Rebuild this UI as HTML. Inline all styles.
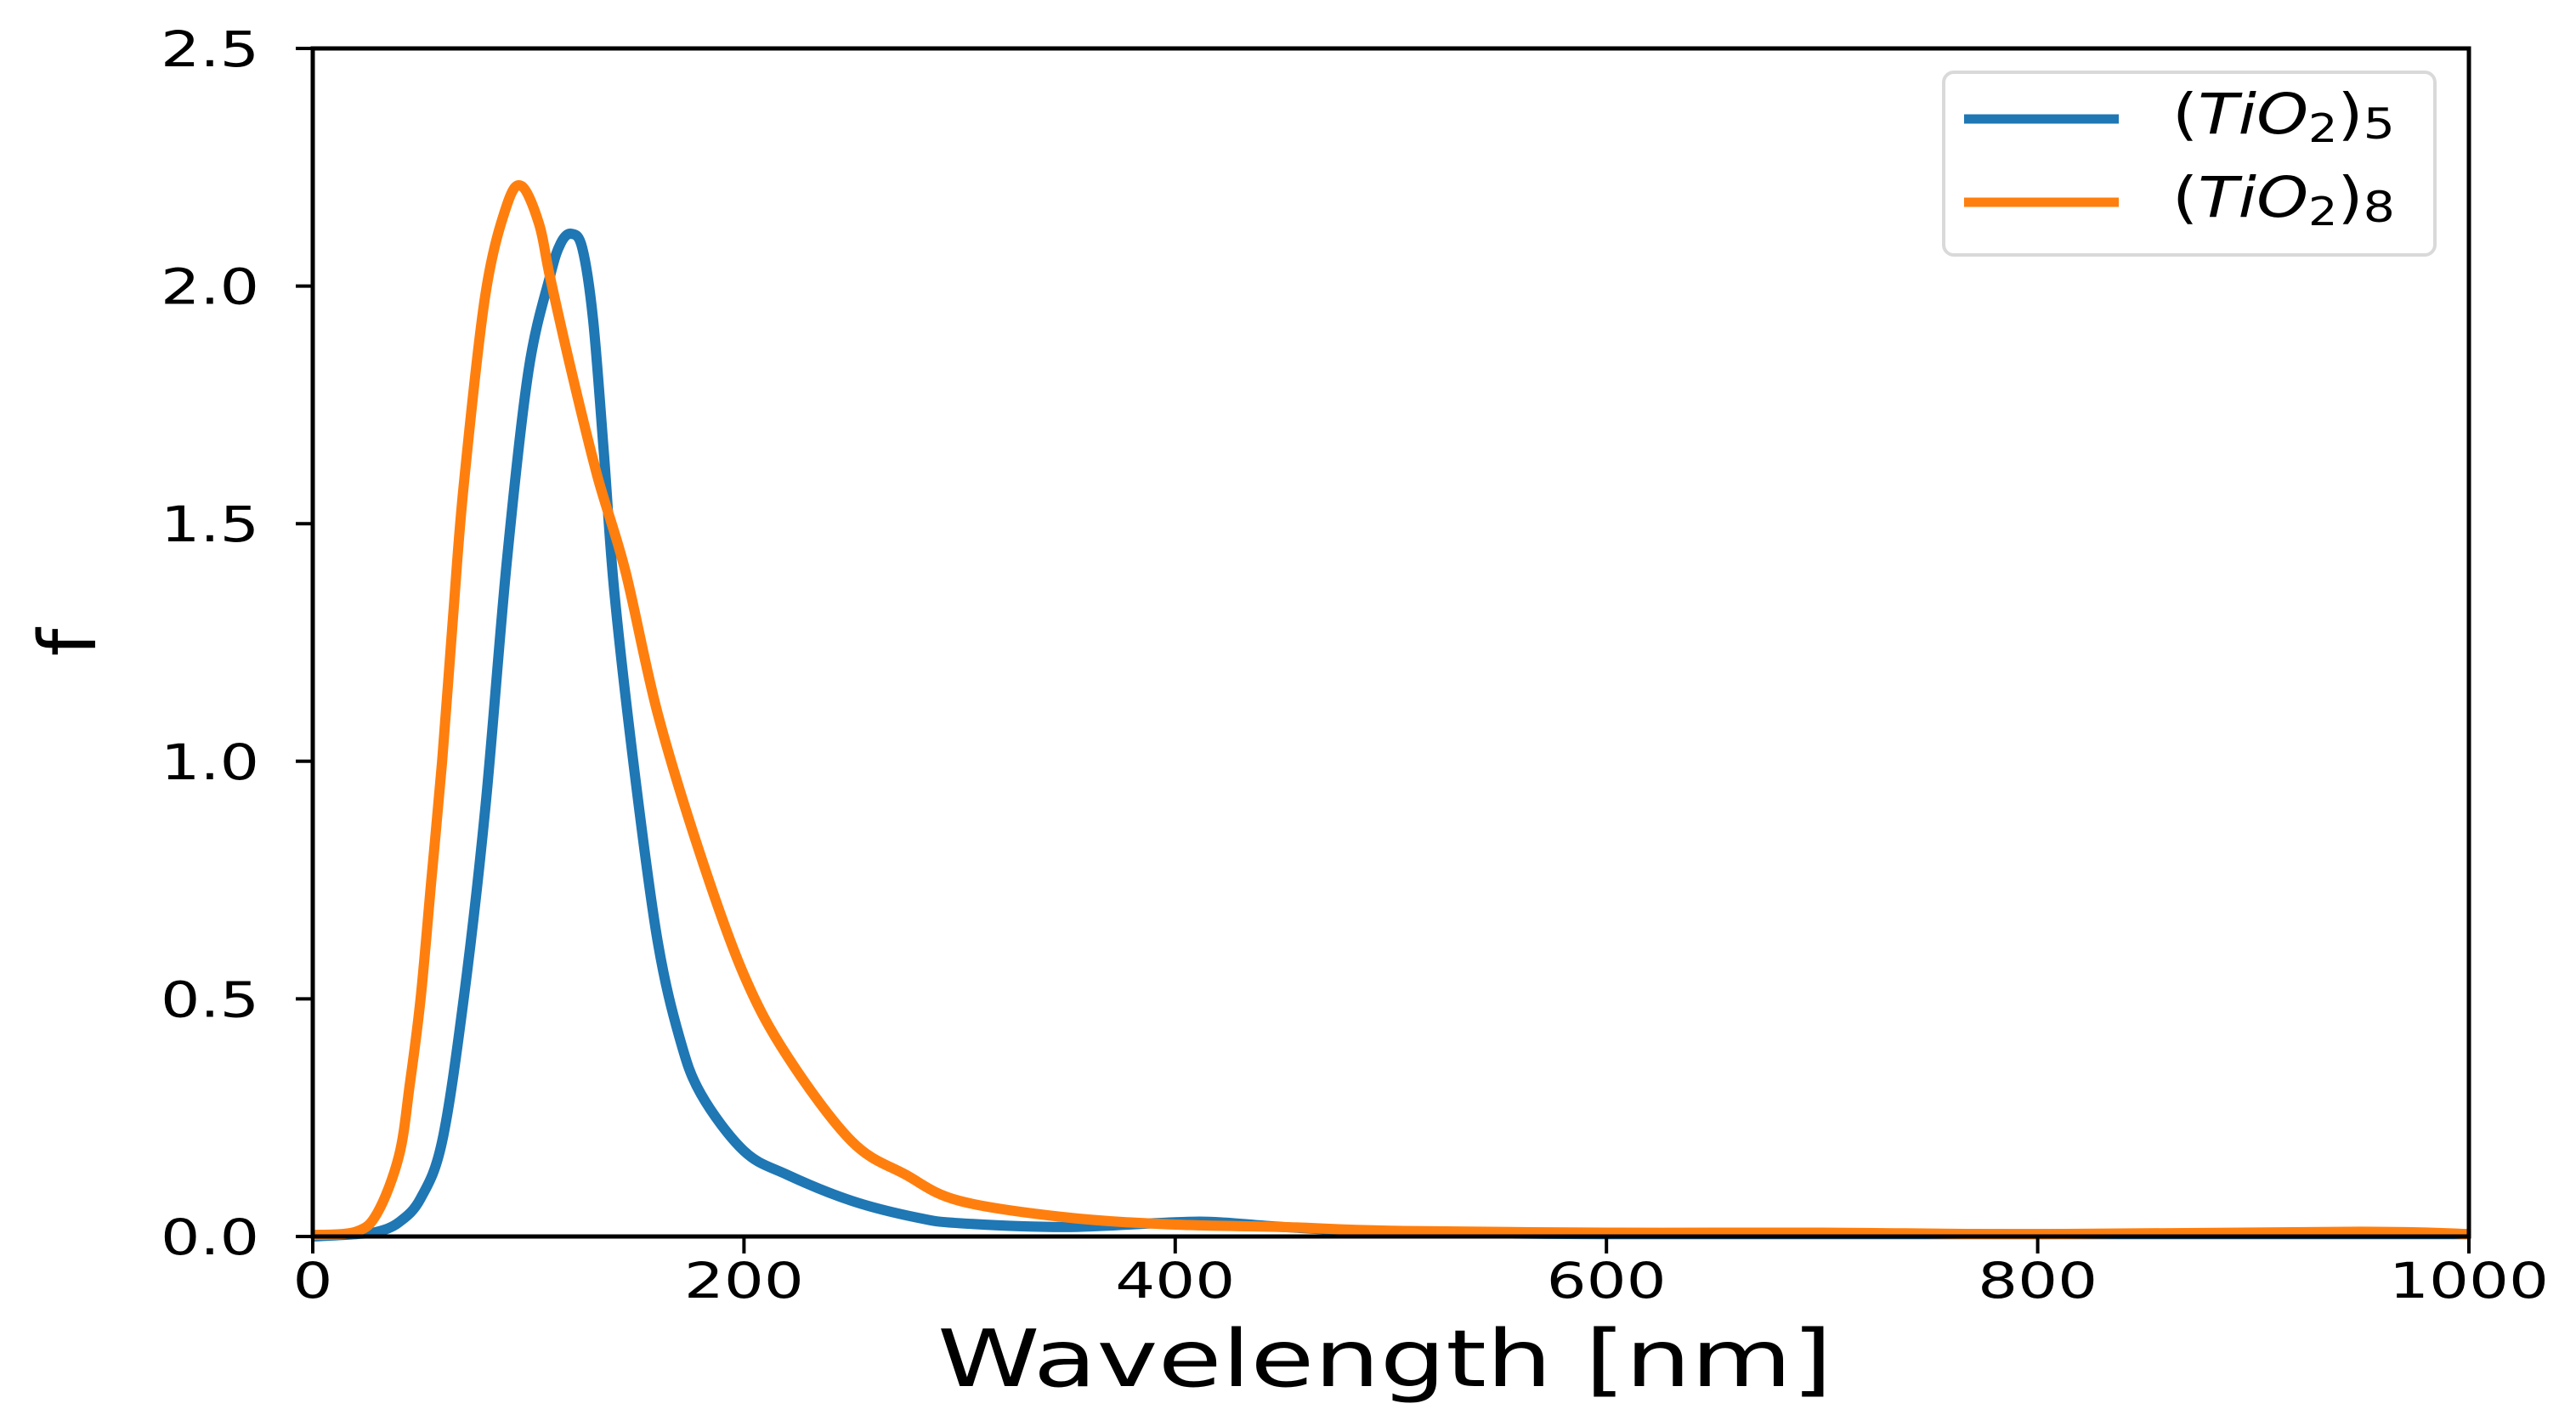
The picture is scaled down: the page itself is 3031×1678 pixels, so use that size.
<!DOCTYPE html>
<html><head><meta charset="utf-8"><style>
html,body{margin:0;padding:0;background:#fff;}
svg{display:block;font-family:"DejaVu Sans","Liberation Sans",sans-serif;}
</style></head><body>
<svg id="chart" width="3031" height="1678" viewBox="0 0 3031 1678">
<g id="plot"></g>
</svg>
<script>
const wl5 = [0,20,30,40,50,60,70,80,90,100,110,115,120,125,130,135,140,150,160,170,180,200,220,250,280,300,350,400,420,450,500,600,800,1000];
const f5  = [0,0.005,0.01,0.03,0.08,0.2,0.5,0.9,1.42,1.82,2.02,2.09,2.11,2.08,1.93,1.65,1.35,0.95,0.62,0.42,0.3,0.18,0.13,0.075,0.04,0.028,0.02,0.03,0.03,0.02,0.01,0.005,0.005,0.005];
const wl8 = [0,20,30,40,45,50,55,60,65,70,80,90,97,105,110,120,132,145,160,180,200,220,250,275,300,350,400,450,500,600,700,800,950,1000];
const f8  = [0.003,0.01,0.05,0.17,0.32,0.5,0.75,1.0,1.3,1.58,1.98,2.17,2.21,2.13,2.02,1.82,1.6,1.4,1.1,0.8,0.55,0.38,0.2,0.13,0.075,0.04,0.025,0.02,0.012,0.008,0.008,0.005,0.01,0.005];
const xTicks = [0,200,400,600,800,1000];
const yTicks = [0.0,0.5,1.0,1.5,2.0,2.5];
const seriesNames = ["(TiO2)5","(TiO2)8"];

const X0=368,X1=2905,Y0=1455,Y1=57;
const xs=v=>X0+(v-0)/(1000-0)*(X1-X0);
const ys=v=>Y0-(v-0)/(2.5-0)*(Y0-Y1);
const NS="http://www.w3.org/2000/svg";
const plot=document.getElementById('plot');
function mk(tag,attrs,parent){const e=document.createElementNS(NS,tag);for(const k in attrs)e.setAttribute(k,attrs[k]);(parent||plot).appendChild(e);return e;}

function pathFor(xv,yv){
  const p=xv.map((x,i)=>[xs(x),ys(yv[i])]);
  let d=`M${p[0][0]},${p[0][1]}`;
  for(let i=0;i<p.length-1;i++){
    const p0=p[Math.max(0,i-1)],p1=p[i],p2=p[i+1],p3=p[Math.min(p.length-1,i+2)];
    const c1=[p1[0]+(p2[0]-p0[0])/6,p1[1]+(p2[1]-p0[1])/6];
    const c2=[p2[0]-(p3[0]-p1[0])/6,p2[1]-(p3[1]-p1[1])/6];
    d+=` C${c1[0]},${Math.min(c1[1],Y0)} ${c2[0]},${Math.min(c2[1],Y0)} ${p2[0]},${p2[1]}`;
  }
  return d;
}
const l5=mk('path',{d:pathFor(wl5,f5),fill:'none',stroke:'#1f77b4','stroke-width':12,'stroke-linejoin':'round'});


const l8=mk('path',{d:pathFor(wl8,f8),fill:'none',stroke:'#ff7f0e','stroke-width':12,'stroke-linejoin':'round'});



const frame=mk('rect',{x:X0,y:Y1,width:X1-X0,height:Y0-Y1,fill:'none',stroke:'#000','stroke-width':5});



xTicks.forEach(t=>{
  const tk=mk('line',{x1:xs(t),x2:xs(t),y1:Y0,y2:Y0+20,stroke:'#000','stroke-width':4});
  
  
  const s=String(t);
  const tx=mk('text',{x:xs(t),y:1527,'text-anchor':'middle','font-size':58,fill:'#000',textLength:s.length*47,lengthAdjust:'spacingAndGlyphs'});
  tx.textContent=s;
  
  
});
yTicks.forEach(t=>{
  const tk=mk('line',{x1:X0-20,x2:X0,y1:ys(t),y2:ys(t),stroke:'#000','stroke-width':4});
  
  
  const tx=mk('text',{x:305,y:ys(t)+21,'text-anchor':'end','font-size':58,fill:'#000',textLength:116,lengthAdjust:'spacingAndGlyphs'});
  tx.textContent=t.toFixed(1);
  
  
});
const xl=mk('text',{x:1103,y:1631,'font-size':93,fill:'#000',textLength:1053,lengthAdjust:'spacingAndGlyphs'});
xl.textContent='Wavelength [nm]';


const yl=mk('text',{x:0,y:0,'font-size':93,fill:'#000','text-anchor':'middle',transform:'translate(112,756) rotate(-90)'});
yl.textContent='f';



const lg=mk('g',{});


mk('rect',{x:2287,y:85,width:578,height:215,rx:12,fill:'#fff',stroke:'#d9d9d9','stroke-width':4},lg);
const colors=['#1f77b4','#ff7f0e'];
const subs=['5','8'];
seriesNames.forEach((n,i)=>{
  const y=140+i*98;
  const ln=mk('line',{x1:2311,x2:2493,y1:y,y2:y,stroke:colors[i],'stroke-width':11},lg);
  
  
  const t=mk('text',{x:2556,y:y+17,'font-size':66,fill:'#000',textLength:262,lengthAdjust:'spacingAndGlyphs'},lg);
  t.innerHTML='(<tspan font-style="italic">TiO</tspan><tspan font-size="46" dy="10">2</tspan><tspan dy="-10">)</tspan><tspan font-size="50" dy="6">'+subs[i]+'</tspan>';
  
  
});
</script>
</body></html>
